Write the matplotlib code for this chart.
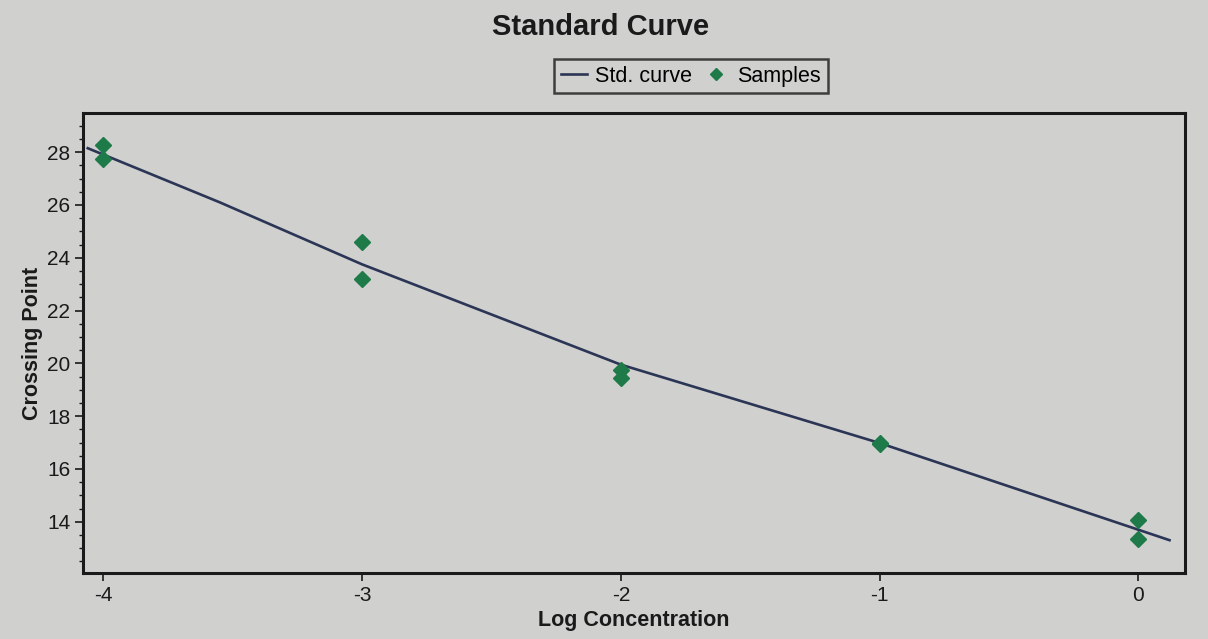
import numpy as np
import matplotlib
matplotlib.use("Agg")
import matplotlib.pyplot as plt
from matplotlib.ticker import MultipleLocator
from matplotlib.lines import Line2D

plt.rcParams['font.family'] = ['Liberation Sans', 'DejaVu Sans']

# sample crossing points (two replicates per dilution)
sample_x = [-4, -4, -3, -3, -2, -2, -1, -1, 0, 0]
sample_y = [28.27, 27.75, 24.60, 23.20, 19.75, 19.45, 16.98, 16.95, 14.06, 13.36]

# fitted standard curve, points along the drawn line
curve_x = [-4.06, -3.55, -3.0, -2.0, -1.0, 0.12]
curve_y = [28.15, 26.10, 23.75, 19.95, 16.98, 13.30]

x_ticks = [-4, -3, -2, -1, 0]
y_ticks = [14, 16, 18, 20, 22, 24, 26, 28]

paper = '#d0d0ce'
ink = '#1a1a1a'
fig = plt.figure(figsize=(12.08, 6.39), dpi=100, facecolor=paper)
ax = fig.add_axes([0.069, 0.103, 0.912, 0.720], facecolor=paper)

ax.plot(curve_x, curve_y, color='#2b3555', lw=1.9, label='Std. curve', zorder=2)
ax.plot(sample_x, sample_y, linestyle='none', marker='D', markersize=8,
        color='#1e7a48', label='Samples', zorder=3)

ax.set_xlim(-4.077, 0.18)
ax.set_ylim(12.05, 29.48)
ax.set_xticks(x_ticks)
ax.set_xticklabels([str(v) for v in x_ticks])
ax.set_yticks(y_ticks)
ax.yaxis.set_minor_locator(MultipleLocator(0.5))

ax.tick_params(axis='both', which='major', direction='out', length=6, width=1.2,
               labelsize=15, colors=ink)
ax.tick_params(axis='y', which='minor', direction='out', length=3, width=1.0,
               color=ink)
for s in ax.spines.values():
    s.set_linewidth(2.2)
    s.set_color(ink)

ax.set_xlabel('Log Concentration', fontsize=15.5, fontweight='bold', color=ink,
              labelpad=3)
ax.set_ylabel('Crossing Point', fontsize=15.5, fontweight='bold', color=ink,
              labelpad=3)

fig.text(0.497, 0.958, 'Standard Curve', fontsize=21, fontweight='bold',
         ha='center', va='center', color=ink)

handles = [Line2D([], [], color='#2b3555', lw=1.9),
           Line2D([], [], linestyle='none', marker='D', markersize=6, color='#1e7a48')]
leg = fig.legend(handles, ['Std. curve', 'Samples'], loc='center',
                 bbox_to_anchor=(0.572, 0.881), ncol=2, fontsize=15.5,
                 frameon=True, fancybox=False, handlelength=1.2,
                 handletextpad=0.4, columnspacing=0.5, borderpad=0.3)
leg.get_frame().set_edgecolor(ink)
leg.get_frame().set_linewidth(1.8)
leg.get_frame().set_facecolor(paper)

fig.savefig('out.png', dpi=100, facecolor=paper)
